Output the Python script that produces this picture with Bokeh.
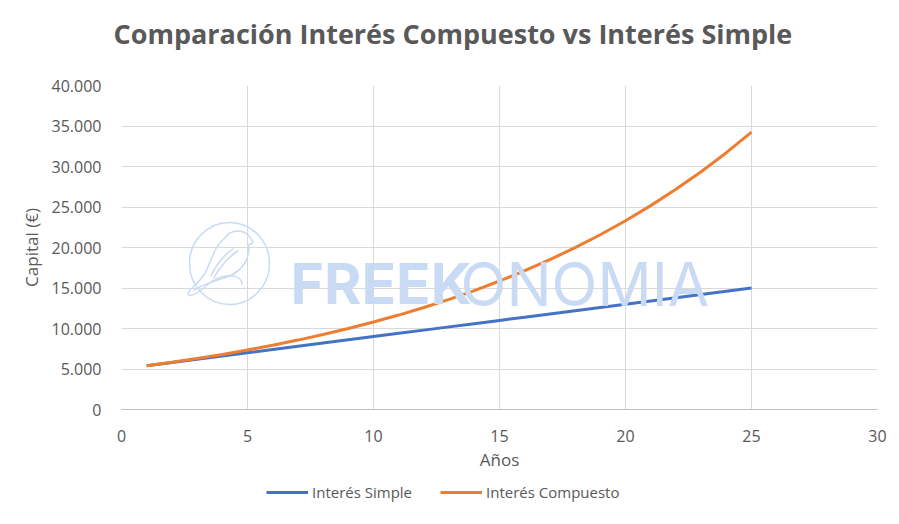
from bokeh.plotting import figure
from bokeh.models import (Range1d, FixedTicker, Legend, LegendItem, Label)
from bokeh.layouts import column
from bokeh.embed import file_html
from bokeh.resources import INLINE

# ---- data ----
years = list(range(1, 26))
simple = [5400, 5800, 6200, 6600, 7000, 7400, 7800, 8200, 8600, 9000, 9400, 9800, 10200,
          10600, 11000, 11400, 11800, 12200, 12600, 13000, 13400, 13800, 14200, 14600, 15000]
compound = [5400, 5832, 6299, 6802, 7347, 7934, 8569, 9255, 9995, 10795, 11658, 12591, 13598,
            14686, 15861, 17130, 18500, 19980, 21578, 23305, 25169, 27183, 29357, 31706, 34242]
x_ticks = [0, 5, 10, 15, 20, 25, 30]
y_ticks = [0, 5000, 10000, 15000, 20000, 25000, 30000, 35000, 40000]
y_tick_labels = ["0", "5.000", "10.000", "15.000", "20.000", "25.000", "30.000", "35.000", "40.000"]
series_names = ["Interés Simple", "Interés Compuesto"]
title_text = "Comparación Interés Compuesto vs Interés Simple"

BLUE = "#4472C4"
ORANGE = "#ED7D31"
TXT = "#595959"
GRID = "#D9D9D9"
WM = "#C9DAF5"
FONT = "Open Sans"

HEAD_H = 64
LEG_H = 48
LEFT, RIGHT = 121, 22


def style(f):
    f.outline_line_color = None
    f.background_fill_color = "white"
    f.border_fill_color = "white"


# ---- title strip ----
head = figure(width=899, height=HEAD_H, output_backend="svg", toolbar_location=None,
              x_range=Range1d(0, 1), y_range=Range1d(0, 1),
              min_border_left=LEFT, min_border_right=RIGHT, min_border_top=0, min_border_bottom=0,
              x_axis_location=None, y_axis_location=None)
style(head)
head.grid.visible = False
head.title.text = title_text
head.title.align = "left"
head.title.offset = -8
head.title.text_font = FONT
head.title.text_font_size = "27px"
head.title.text_font_style = "bold"
head.title.text_color = TXT
head.title.vertical_align = "bottom"
head.title.standoff = 24

# ---- main chart ----
fig = figure(width=899, height=524 - HEAD_H - LEG_H, output_backend="svg", toolbar_location=None,
             x_range=Range1d(0, 30), y_range=Range1d(0, 40000),
             min_border_left=LEFT, min_border_right=RIGHT, min_border_top=85 - HEAD_H,
             min_border_bottom=524 - HEAD_H - LEG_H - (85 - HEAD_H) - 324)
style(fig)
try:
    fig.title = None
except Exception:
    fig.title.visible = False

fig.xaxis.ticker = FixedTicker(ticks=x_ticks)
fig.yaxis.ticker = FixedTicker(ticks=y_ticks)
fig.yaxis.major_label_overrides = {v: l for v, l in zip(y_ticks, y_tick_labels)}
for ax in (fig.xaxis, fig.yaxis):
    ax.major_tick_line_color = None
    ax.minor_tick_line_color = None
    ax.major_label_text_font = FONT
    ax.major_label_text_color = TXT
    ax.axis_label_text_font = FONT
    ax.axis_label_text_color = TXT
    ax.axis_label_text_font_style = "normal"
    ax.axis_label_text_font_size = "17px"
fig.xaxis.major_label_text_font_size = "16px"
fig.yaxis.major_label_text_font_size = "16px"
fig.yaxis.axis_line_color = None
fig.xaxis.axis_line_color = "#BFBFBF"
fig.xaxis.axis_line_width = 1
fig.xaxis.major_label_standoff = 14
fig.yaxis.major_label_standoff = 14
fig.xaxis.axis_label = "Años"
fig.yaxis.axis_label = "Capital (€)"
fig.xaxis.axis_label_standoff = 3
fig.yaxis.axis_label_standoff = 6

fig.xgrid.ticker = FixedTicker(ticks=x_ticks)
fig.ygrid.ticker = FixedTicker(ticks=y_ticks)
fig.grid.grid_line_color = GRID
fig.grid.grid_line_width = 1


# helpers: page pixel -> data coordinates (for the watermark decoration only)
def dx(px):
    return (px - 121) / 756 * 30


def dy(py):
    return (409 - py) / 324 * 40000


# ---- watermark (decoration) ----
fig.ellipse(x=[dx(229)], y=[dy(263)], width=80, height=82, width_units="screen",
            height_units="screen", fill_color=None, line_color=WM, line_width=1.5)
curves = [
    ((224, 238), (214, 245), (210, 262), (205, 272)),   # back
    ((224, 238), (230, 228), (245, 228), (250, 238)),   # head
    ((250, 238), (253, 240), (254, 243), (248, 244)),   # beak
    ((248, 244), (250, 258), (242, 270), (228, 276)),   # belly
    ((228, 276), (215, 280), (200, 285), (193, 290)),   # tail lower
    ((205, 272), (200, 280), (195, 284), (190, 289)),   # tail upper
    ((190, 289), (184, 296), (190, 299), (205, 286)),   # tail tip
    ((205, 286), (220, 272), (240, 272), (242, 284)),   # branch
    ((238, 250), (228, 256), (218, 268), (213, 278)),   # wing
    ((233, 248), (224, 254), (216, 264), (210, 276)),   # wing
]
fig.bezier(x0=[dx(c[0][0]) for c in curves], y0=[dy(c[0][1]) for c in curves],
           cx0=[dx(c[1][0]) for c in curves], cy0=[dy(c[1][1]) for c in curves],
           cx1=[dx(c[2][0]) for c in curves], cy1=[dy(c[2][1]) for c in curves],
           x1=[dx(c[3][0]) for c in curves], y1=[dy(c[3][1]) for c in curves],
           line_color=WM, line_width=1.5)
fig.add_layout(Label(x=dx(290), y=dy(283), text="FREEK", text_font="Inter",
                     text_font_style="bold", text_font_size="57px", text_color=WM,
                     text_baseline="alphabetic"))
fig.add_layout(Label(x=dx(460), y=dy(283), text="ONOMIA", text_font="Inter",
                     text_font_size="60px", text_color=WM, text_baseline="alphabetic"))

# ---- series ----
fig.line(years, simple, line_color=BLUE, line_width=3)
fig.line(years, compound, line_color=ORANGE, line_width=3)

# ---- legend strip ----
leg = figure(width=899, height=LEG_H, output_backend="svg", toolbar_location=None,
             x_range=Range1d(0, 1), y_range=Range1d(0, 1),
             min_border_left=LEFT, min_border_right=RIGHT, min_border_top=0, min_border_bottom=0,
             x_axis_location=None, y_axis_location=None)
style(leg)
try:
    leg.title = None
except Exception:
    leg.title.visible = False
leg.grid.visible = False
# legend keys (kept outside the visible range of the legend strip)
l1 = leg.line(x=[5, 6], y=[5, 5], line_color=BLUE, line_width=3)
l2 = leg.line(x=[5, 6], y=[5, 5], line_color=ORANGE, line_width=3)
legend = Legend(items=[LegendItem(label=series_names[0], renderers=[l1]),
                       LegendItem(label=series_names[1], renderers=[l2])],
                orientation="horizontal", location=(266 - LEFT, 22),
                label_text_font=FONT, label_text_font_size="15px", label_text_color=TXT,
                glyph_width=42, glyph_height=20, label_standoff=4, spacing=28,
                padding=0, margin=0, border_line_color=None, background_fill_alpha=0)
leg.add_layout(legend, "center")

p = column(head, fig, leg, spacing=0)

open("out.html", "w").write(file_html(p, INLINE))
